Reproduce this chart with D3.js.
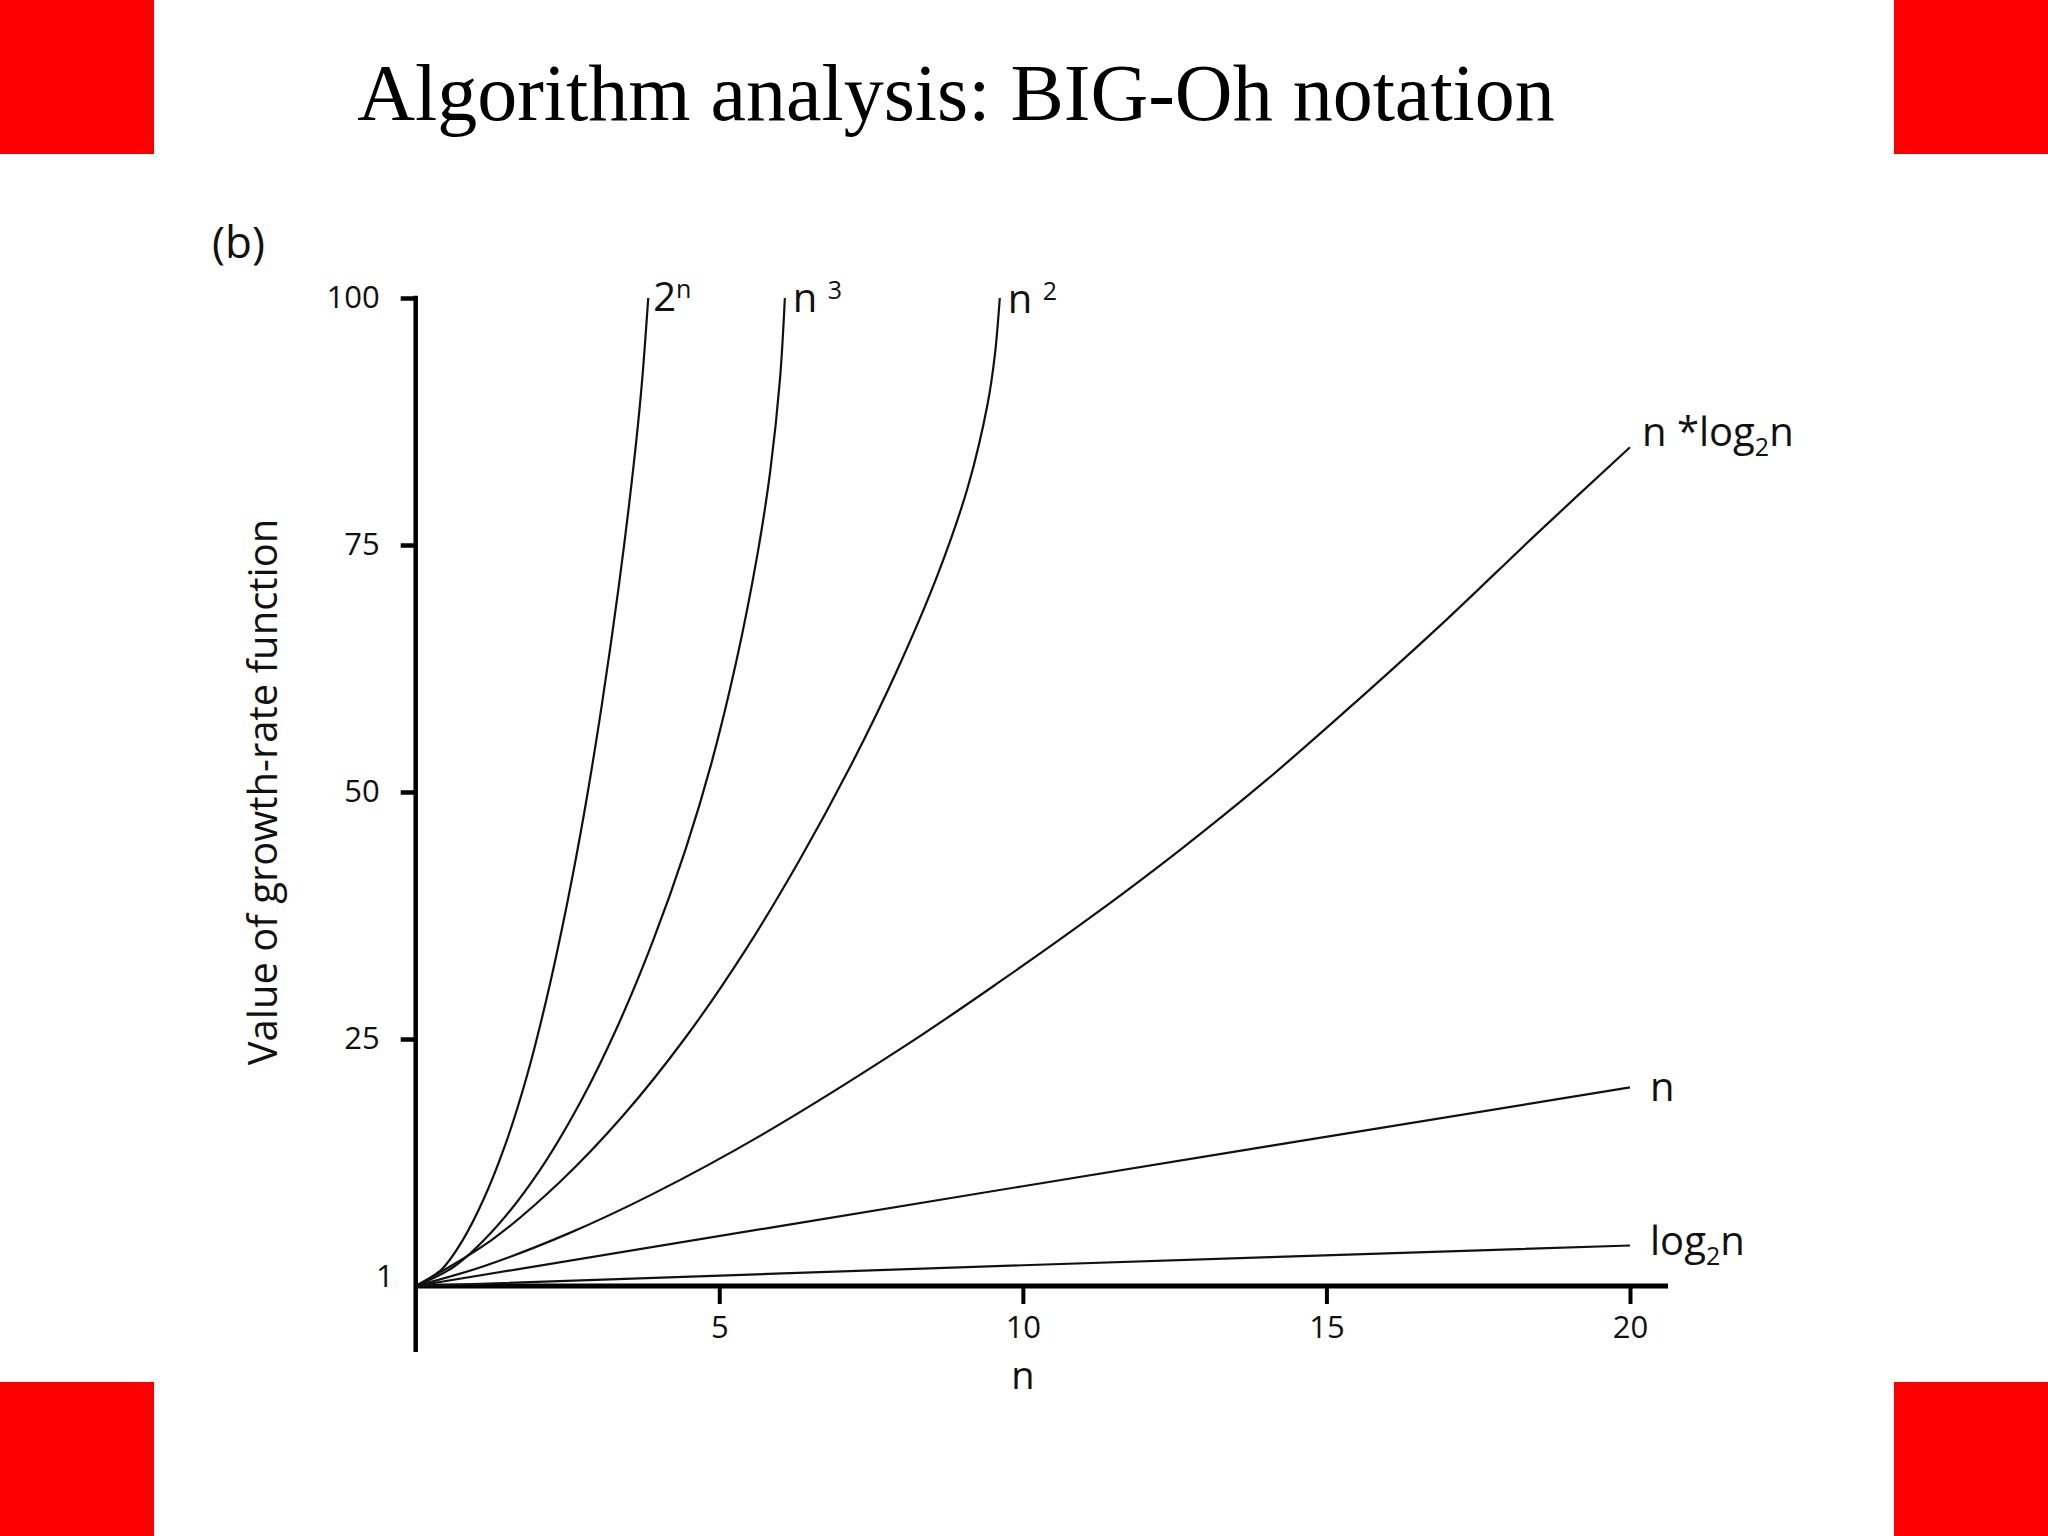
<!DOCTYPE html>
<html>
<head>
<meta charset="utf-8">
<script src="https://cdn.jsdelivr.net/npm/d3@7/dist/d3.min.js"></script>
<style>
  body { margin: 0; background: #fff; }
  text { font-family: "Open Sans", "Noto Sans", sans-serif; fill: #111; }
</style>
</head>
<body>
<script>
// values: [n, value]
var xTicks = [5, 10, 15, 20];
var yTicks = [1, 25, 50, 75, 100];
var seriesNames = ["2^n", "n^3", "n^2", "n*log2n", "n", "log2n"];

var pow2N = [[0,0],[0.43,1.7],[0.78,4.7],[1.12,8.8],[1.47,14.2],[1.82,21],[2.16,29.2],[2.51,39.2],[2.79,48.4],[3.07,59],[3.34,70.6],[3.59,83.1],[3.72,91],[3.83,100]];
var cubeN = [[0,0],[0.64,2],[1.33,6],[2.02,11.5],[2.72,18.7],[3.34,26.5],[3.9,34.8],[4.45,44.3],[4.87,52.9],[5.28,63.2],[5.63,74.1],[5.84,82.5],[6.0,91.8],[6.08,100]];
var sqN = [[0,0],[1.26,4.7],[2.37,10.5],[3.41,17.2],[4.45,25.2],[5.42,33.9],[6.32,43.1],[7.16,52.6],[7.92,62.2],[8.61,72.2],[9.1,81],[9.42,89.3],[9.54,94.3],[9.62,100]];
var nLogN = [[0,0],[1.12,2],[2.51,5.3],[3.9,9.3],[5.7,15.3],[8.06,24.3],[9.62,30.8],[11.09,37.2],[12.56,44],[14.03,51.3],[15.5,59.2],[16.97,67.4],[18.44,76],[20,84.9]];
var linN = [[0,0],[10,10.1],[20,20.1]];
var logN = [[0,0],[10,2.1],[20,4.1]];

// label pieces: text, 1 = superscript, -1 = subscript
var labelParts = [
    [["2", 0], ["n", 1]],
    [["n ", 0], ["3", 1]],
    [["n ", 0], ["2", 1]],
    [["n *log", 0], ["2", -1], ["n", 0]],
    [["n", 0]],
    [["log", 0], ["2", -1], ["n", 0]]
];

var margin = {top: 298, left: 415.7},
    width = 2048,
    height = 1536;

var series = [pow2N, cubeN, sqN, nLogN, linN, logN];
var labelOffsets = [[5, 13], [8, 14], [8, 15], [12, -1], [20, 14], [20, 10]];

var svg = d3.select("body").append("svg")
    .attr("width", width)
    .attr("height", height);

// red corner blocks of the slide
var cote = 154;
[[0, 0], [width - cote, 0], [0, height - cote], [width - cote, height - cote]].forEach(function(c) {
    svg.append("rect")
        .attr("x", c[0])
        .attr("y", c[1])
        .attr("width", cote)
        .attr("height", cote)
        .attr("fill", "#ff0000");
});

svg.append("text")
    .text("Algorithm analysis: BIG-Oh notation")
    .attr("x", 956)
    .attr("y", 120)
    .attr("text-anchor", "middle")
    .attr("font-size", 80)
    .style("font-family", "'Liberation Serif', 'Times New Roman', serif")
    .style("fill", "#000");

var x = d3.scaleLinear().domain([0, 20]).range([margin.left, 1630]);
var y = d3.scaleLinear().domain([0, 100]).range([1286, margin.top]);

// y axis
var yAxis = d3.axisLeft(y)
    .tickValues(yTicks)
    .tickSize(15)
    .tickPadding(21)
    .tickFormat(d3.format("d"));

var gy = svg.append("g")
    .attr("transform", "translate(" + x(0) + ",0)")
    .call(yAxis);
gy.select(".domain").remove();
gy.selectAll(".tick line").attr("stroke", "#000").attr("stroke-width", 4.5);
gy.selectAll(".tick text").attr("font-size", 31).style("font-family", "'Open Sans', sans-serif");
gy.selectAll(".tick").filter(function(d) { return d === 1; })
    .each(function() {
        d3.select(this).select("line").remove();
        d3.select(this).select("text").attr("x", -22);
    });

svg.append("line")
    .attr("x1", x(0))
    .attr("x2", x(0))
    .attr("y1", y(100) - 2.2)
    .attr("y2", y(0) + 66)
    .attr("stroke", "#000")
    .attr("stroke-width", 4.5);

// x axis
var xAxis = d3.axisBottom(x)
    .tickValues(xTicks)
    .tickSize(18)
    .tickPadding(12)
    .tickFormat(d3.format("d"));

var gx = svg.append("g")
    .attr("transform", "translate(0," + y(0) + ")")
    .call(xAxis);
gx.select(".domain").remove();
gx.selectAll(".tick line").attr("stroke", "#000").attr("stroke-width", 4);
gx.selectAll(".tick text").attr("font-size", 31).style("font-family", "'Open Sans', sans-serif");

svg.append("line")
    .attr("x1", x(0))
    .attr("x2", x(20) + 38)
    .attr("y1", y(0))
    .attr("y2", y(0))
    .attr("stroke", "#000")
    .attr("stroke-width", 5);

// axis titles
svg.append("text")
    .text("n")
    .attr("x", x(10))
    .attr("y", 1389)
    .attr("text-anchor", "middle")
    .attr("font-size", 38);

svg.append("text")
    .text("Value of growth-rate function")
    .attr("transform", "translate(277," + y(50) + ") rotate(-90)")
    .attr("text-anchor", "middle")
    .attr("font-size", 40);

svg.append("text")
    .text("(b)")
    .attr("x", 212)
    .attr("y", 258)
    .attr("font-size", 44);

// curves
var line = d3.line()
    .x(function(d) { return x(d[0]); })
    .y(function(d) { return y(d[1]); })
    .curve(d3.curveCatmullRom.alpha(0.5));

svg.selectAll("path.curve")
    .data(series)
    .enter().append("path")
    .attr("class", "curve")
    .attr("d", line)
    .attr("fill", "none")
    .attr("stroke", "#111")
    .attr("stroke-width", 2.2);

// curve labels at the end of each curve
series.forEach(function(s, i) {
    var last = s[s.length - 1];
    var t = svg.append("text")
        .attr("class", "label")
        .attr("data-series", seriesNames[i])
        .attr("x", x(last[0]) + labelOffsets[i][0])
        .attr("y", y(last[1]) + labelOffsets[i][1])
        .attr("font-size", 40);
    var shift = 0;
    labelParts[i].forEach(function(p) {
        var target = p[1] === 1 ? -13 : (p[1] === -1 ? 10 : 0);
        t.append("tspan")
            .text(p[0])
            .attr("dy", target - shift)
            .attr("font-size", p[1] === 0 ? 40 : 25);
        shift = target;
    });
});
</script>
</body>
</html>
